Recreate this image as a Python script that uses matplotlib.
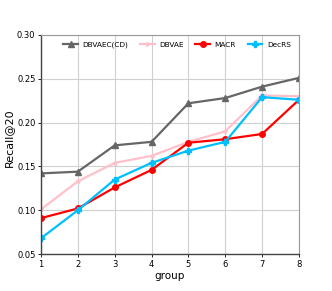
import matplotlib
matplotlib.use("Agg")
import matplotlib.pyplot as plt

groups = [1, 2, 3, 4, 5, 6, 7, 8]
dbvaec_cd = [0.142, 0.144, 0.174, 0.178, 0.222, 0.228, 0.241, 0.251]
dbvae = [0.101, 0.133, 0.154, 0.162, 0.178, 0.190, 0.231, 0.230]
macr = [0.091, 0.102, 0.126, 0.146, 0.177, 0.181, 0.187, 0.226]
decrs = [0.068, 0.100, 0.135, 0.154, 0.168, 0.178, 0.229, 0.226]
yticks = [0.05, 0.10, 0.15, 0.20, 0.25, 0.30]

fig = plt.figure(figsize=(3.32, 2.91), dpi=100)
ax = fig.add_axes([0.1235, 0.127, 0.777, 0.753])

ax.plot(groups, dbvaec_cd, color="#666666", marker="^", markersize=4, linewidth=1.6, label="DBVAEC(CD)")
ax.plot(groups, dbvae, color="pink", marker="*", markersize=3, linewidth=1.6, label="DBVAE")
ax.plot(groups, macr, color="red", marker="o", markersize=4, linewidth=1.6, label="MACR")
ax.plot(groups, decrs, color="deepskyblue", marker="P", markersize=4, linewidth=1.6, label="DecRS")

ax.set_xlim(1, 8)
ax.set_ylim(0.05, 0.30)
ax.set_xticks(groups)
ax.set_yticks(yticks)
ax.set_yticklabels([f"{v:.2f}" for v in yticks])
ax.tick_params(labelsize=6, length=2, width=0.6, pad=2)
ax.grid(True, color="#d0d0d0", linewidth=0.8)
ax.set_axisbelow(True)
for s in ["top", "right"]:
    ax.spines[s].set_color("#999999")
    ax.spines[s].set_linewidth(0.8)
for s in ["left", "bottom"]:
    ax.spines[s].set_color("#444444")
    ax.spines[s].set_linewidth(1.0)
ax.set_xlabel("group", fontsize=7.5, labelpad=2)
ax.set_ylabel("Recall@20", fontsize=8)
ax.yaxis.set_label_coords(-0.103, 0.53)
ax.legend(loc="upper center", ncol=4, frameon=False, fontsize=5.3, handlelength=2.0,
          columnspacing=1.6, handletextpad=0.6, bbox_to_anchor=(0.527, 1.0))

fig.savefig("out.png", dpi=100)
